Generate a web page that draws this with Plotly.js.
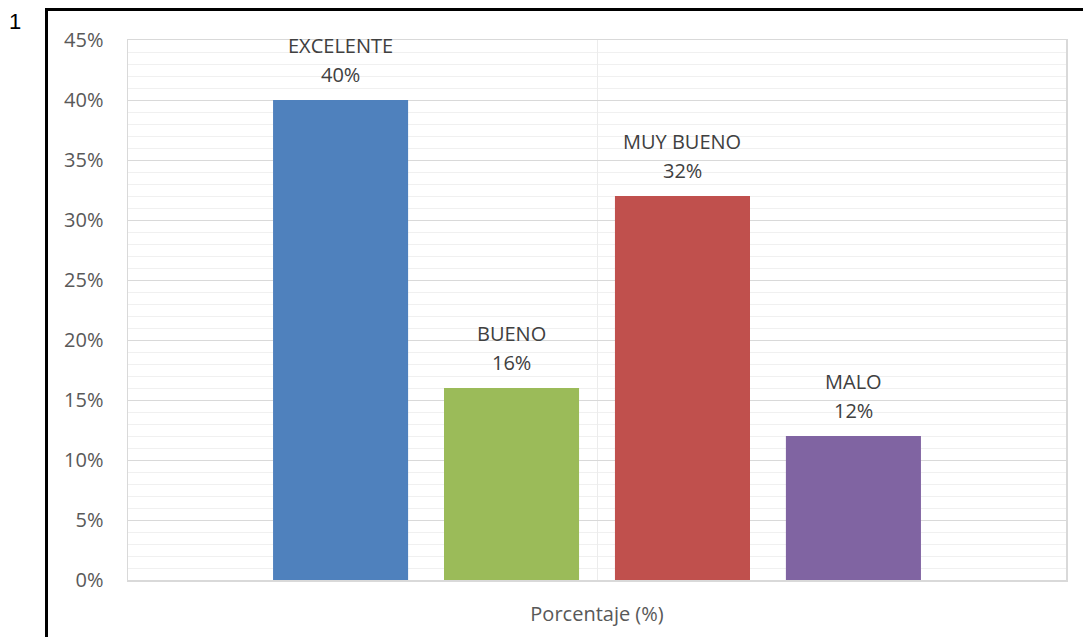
<!DOCTYPE html>
<html>
<head>
<meta charset="utf-8">
<script src="https://cdn.plot.ly/plotly-3.0.1.min.js"></script>
<style>
  html, body { margin: 0; padding: 0; background: #fff; }
  #chart { width: 1083px; height: 637px; }
</style>
</head>
<body>
<div id="chart"></div>
<script>
const category = ["Porcentaje (%)"];
const seriesNames = ["EXCELENTE", "BUENO", "MUY BUENO", "MALO"];
const seriesValues = [0.40, 0.16, 0.32, 0.12];
const seriesColors = ["#4F81BD", "#9BBB59", "#C0504D", "#8064A2"];
const yTickVals = [0, 0.05, 0.10, 0.15, 0.20, 0.25, 0.30, 0.35, 0.40, 0.45];
const figureNumber = "1";

const FONT = "Open Sans, Noto Sans, sans-serif";

const traces = seriesNames.map((name, i) => ({
  type: "bar",
  name: name,
  x: category,
  y: [seriesValues[i]],
  marker: { color: seriesColors[i] },
  hoverinfo: "name+y"
}));

// plot area geometry (for layout positioning of decoration only)
const W = 1083, H = 637;
const margin = { l: 128, r: 17, t: 40, b: 57 };
const pw = W - margin.l - margin.r;
const ph = H - margin.t - margin.b;
const px = v => (v - margin.l) / pw;        // pixel x -> paper
const py = v => (H - margin.b - v) / ph;    // pixel y -> paper

const bargap = 0.271;
const bargroupgap = 0.21;
const slotPx = pw * (1 - bargap) / seriesNames.length;

const annotations = [];
seriesNames.forEach((name, i) => {
  const shift = (i - (seriesNames.length - 1) / 2) * slotPx;
  annotations.push({
    xref: "x", yref: "y", x: category[0], y: seriesValues[i],
    xshift: shift, yshift: 55, yanchor: "middle", xanchor: "center",
    text: name, showarrow: false,
    font: { family: FONT, size: 20, color: "#404040" }
  });
  annotations.push({
    xref: "x", yref: "y", x: category[0], y: seriesValues[i],
    xshift: shift, yshift: 26, yanchor: "middle", xanchor: "center",
    text: Math.round(seriesValues[i] * 100) + "%", showarrow: false,
    font: { family: FONT, size: 20, color: "#404040" }
  });
});
annotations.push({
  xref: "paper", yref: "paper", x: px(15), y: py(22),
  xanchor: "center", yanchor: "middle", text: figureNumber, showarrow: false,
  font: { family: "Liberation Sans, Arial, sans-serif", size: 22, color: "#000" }
});

const shapes = [
  { type: "line", xref: "paper", yref: "paper", x0: px(46.5), x1: px(46.5), y0: py(8), y1: py(640),
    line: { color: "#000", width: 3 } },
  { type: "line", xref: "paper", yref: "paper", x0: px(45), x1: px(1090), y0: py(9.5), y1: py(9.5),
    line: { color: "#000", width: 3 } }
];

const layout = {
  width: W, height: H,
  margin: margin,
  paper_bgcolor: "#fff", plot_bgcolor: "#fff",
  showlegend: false,
  barmode: "group",
  bargap: bargap,
  bargroupgap: bargroupgap,
  font: { family: FONT, color: "#595959" },
  xaxis: {
    type: "category",
    showgrid: true, gridcolor: "#ececec", gridwidth: 1,
    showline: true, linecolor: "#d9d9d9", linewidth: 1.5, mirror: true,
    ticks: "", ticklabelstandoff: 15,
    tickfont: { family: FONT, size: 20, color: "#595959" },
    zeroline: false, fixedrange: true
  },
  yaxis: {
    range: [0, 0.45],
    tickvals: yTickVals,
    tickformat: ".0%",
    showgrid: true, gridcolor: "#d9d9d9", gridwidth: 1,
    minor: { dtick: 0.01, showgrid: true, gridcolor: "#f0f0f0", gridwidth: 1, ticks: "" },
    showline: true, linecolor: "#d9d9d9", linewidth: 1.5, mirror: true,
    ticks: "", ticklabelstandoff: 19,
    tickfont: { family: FONT, size: 20, color: "#595959" },
    zeroline: false, fixedrange: true
  },
  annotations: annotations,
  shapes: shapes
};

Plotly.newPlot("chart", traces, layout, { displayModeBar: false, staticPlot: true });
</script>
</body>
</html>
